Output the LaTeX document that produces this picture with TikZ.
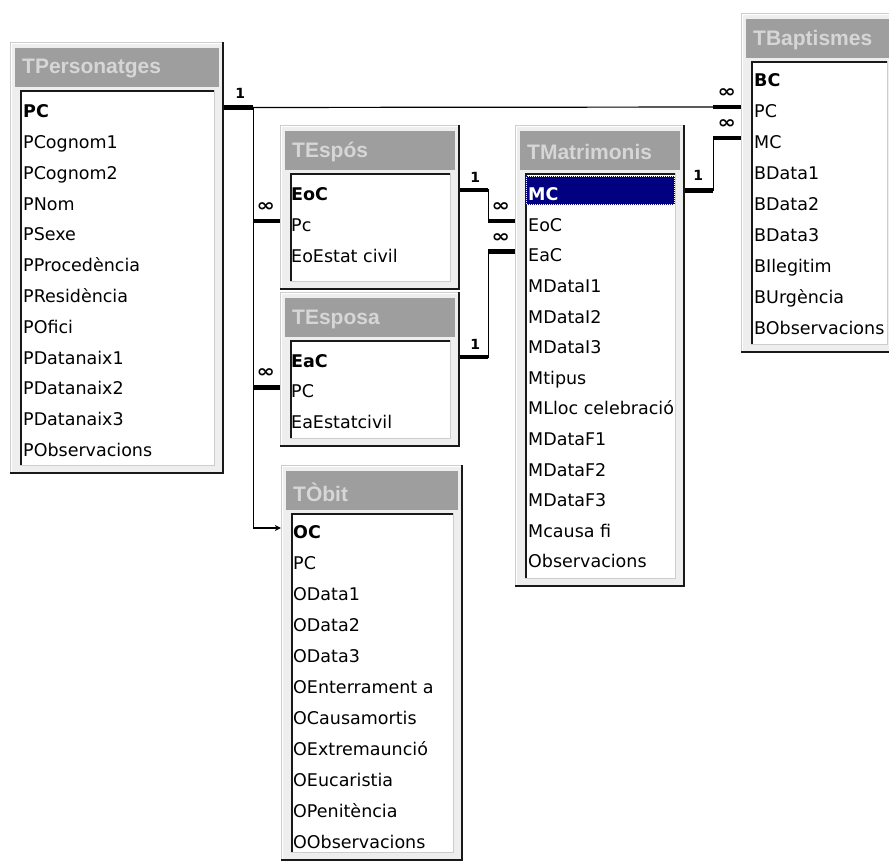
\documentclass[tikz,border=0pt]{standalone}
\usepackage{fontspec}
\setmainfont{DejaVu Sans}
\newfontfamily\capfont{Liberation Sans}
\usetikzlibrary{calc,arrows.meta}

\definecolor{winface}{RGB}{238,238,238}
\definecolor{capbar}{RGB}{158,158,158}
\definecolor{captxt}{RGB}{214,214,214}
\definecolor{edgedark}{RGB}{25,25,25}
\definecolor{edgemid}{RGB}{128,128,128}
\definecolor{edgelight}{RGB}{205,205,205}
\definecolor{selnavy}{RGB}{0,0,128}

\tikzset{
  field/.style={inner sep=0pt, text height=20.4pt, text depth=0pt,
    font=\fontsize{17.5}{20}\selectfont},
  captext/.style={inner sep=0pt, text=captxt,
    font=\capfont\bfseries\fontsize{21}{24}\selectfont},
  winbox/.style={inner sep=0pt, draw=none},
  rel/.style={line width=1.2pt, draw=black},
  stub/.style={line width=4.5pt, draw=black},
  onelbl/.style={inner sep=0pt, font=\bfseries\fontsize{14}{16}\selectfont},
  manylbl/.style={inner sep=0pt, yscale=0.8, font=\bfseries\fontsize{22}{24}\selectfont},
}

% table window: name, left, top, right, bottom, caption
\newcommand\dbtable[6]{%
  \fill[winface] (#2,#3) rectangle (#4,#5);
  \draw[edgelight, line width=1pt] ({#2+0.5},{#5-1}) -- ({#2+0.5},{#3+0.5}) -- ({#4-1},{#3+0.5});
  \draw[white, line width=1pt] ({#2+1.5},{#5-2}) -- ({#2+1.5},{#3+1.5}) -- ({#4-2},{#3+1.5});
  \draw[edgemid, line width=1pt] ({#2+1},{#5-2}) -- ({#4-2},{#5-2}) -- ({#4-2},{#3+1});
  \draw[edgedark, line width=1.6pt] (#2,{#5-0.8}) -- ({#4-0.8},{#5-0.8}) -- ({#4-0.8},#3);
  \fill[capbar] ({#2+5},{#3+6}) rectangle ({#4-5},{#3+45});
  \node[captext, anchor=west] (#1-cap) at ({#2+12},{#3+27}) {#6};
  \fill[white] ({#2+10},{#3+48}) rectangle ({#4-9},{#5-8});
  \draw[edgelight, line width=1pt] ({#2+10},{#5-8.5}) -- ({#4-9.5},{#5-8.5}) -- ({#4-9.5},{#3+48});
  \draw[edgedark, line width=2pt] ({#2+11},{#5-9}) -- ({#2+11},{#3+49}) -- ({#4-10},{#3+49});
  \node[winbox, minimum width={(#4-#2)*1pt}, minimum height={(#5-#3)*1pt}]
    (#1) at ({(#2+#4)/2},{(#3+#5)/2}) {};
}

% field rows: name, text x, first row y, row pitch, list
\newcommand\dbfields[5]{%
  \foreach \t [count=\i] in {#5} {
    \node[field, anchor=west] (#1-f\i) at (#2,{#3+(\i-1)*#4}) {\t};
  }
}

\begin{document}
\begin{tikzpicture}[x=1pt,y=-1pt]
\useasboundingbox (0,0) rectangle (889,862);
\fill[white] (0,0) rectangle (889,862);
\clip (0,0) rectangle (889,862);

% ---- tables ----
\dbtable{per}{10}{42}{224}{474}{TPersonatges}
\dbfields{per}{23}{107.5}{30.8}{\textbf{PC},PCognom1,PCognom2,PNom,PSexe,PProcedència,PResidència,POfici,PDatanaix1,PDatanaix2,PDatanaix3,PObservacions}

\dbtable{bap}{741}{13}{897}{353}{TBaptismes}
\dbfields{bap}{754}{76}{31}{\textbf{BC},PC,MC,BData1,BData2,BData3,BIlegitim,BUrgència,BObservacions}

\dbtable{espo}{280}{125}{460}{290}{TEspós}
\dbfields{espo}{291}{190}{31}{\textbf{EoC},Pc,EoEstat civil}

\dbtable{espa}{280}{292}{460}{447}{TEsposa}
\dbfields{espa}{291}{357}{30.5}{\textbf{EaC},PC,EaEstatcivil}

\dbtable{mat}{515}{125}{685}{587}{TMatrimonis}
% selected row
\fill[selnavy] (526,176) rectangle (675,205);
\draw[white, line width=1pt, dash pattern=on 1pt off 1pt] (526.5,176.5) rectangle (674.5,204.5);
\dbfields{mat}{528}{190.5}{30.6}{\textcolor{white}{\textbf{MC}},EoC,EaC,MDataI1,MDataI2,MDataI3,Mtipus,MLloc celebració,MDataF1,MDataF2,MDataF3,Mcausa fi,Observacions}

\dbtable{obit}{281}{465}{463}{861}{TÒbit}
\dbfields{obit}{293}{528}{31}{\textbf{OC},PC,OData1,OData2,OData3,OEnterrament a,OCausamortis,OExtremaunció,OEucaristia,OPenitència,OObservacions}

% ---- relationships ----
% TPersonatges.PC -> TBaptismes.PC
\draw[rel] (per.east |- per-f1) -- (bap.west |- bap-f2);
\draw[stub] (per.east |- per-f1) -- ++(29,0);
\draw[stub] (bap.west |- bap-f2) -- ++(-28,0);
\node[onelbl] (one1) at ($(per.east |- per-f1)+(16,-14)$) {1};
\node[manylbl] (many1) at ($(bap.west |- bap-f2)+(-14,-14)$) {∞};

% TPersonatges.PC -> TEspós.Pc
\draw[rel] (per.east |- per-f1) -- ++(29,0) |- (espo.west |- espo-f2);
\draw[stub] (espo.west |- espo-f2) -- ++(-27,0);
\node[manylbl] (many2) at ($(espo.west |- espo-f2)+(-14,-14)$) {∞};

% TPersonatges.PC -> TEsposa.PC
\draw[rel] (per.east |- per-f1) -- ++(29,0) |- (espa.west |- espa-f2);
\draw[stub] (espa.west |- espa-f2) -- ++(-27,0);
\node[manylbl] (many3) at ($(espa.west |- espa-f2)+(-14,-14)$) {∞};

% TPersonatges.PC -> TÒbit.OC
\draw[rel, -{Stealth[length=6pt,width=6pt]}] (per.east |- per-f1) -- ++(29,0) |- (obit.west |- obit-f1);

% TEspós.EoC -> TMatrimonis.EoC
\draw[rel] (espo.east |- espo-f1) -- ++(28,0) |- (mat.west |- mat-f2);
\draw[stub] (espo.east |- espo-f1) -- ++(28,0);
\draw[stub] (mat.west |- mat-f2) -- ++(-27,0);
\node[onelbl] (one5) at ($(espo.east |- espo-f1)+(15,-13)$) {1};
\node[manylbl] (many5) at ($(mat.west |- mat-f2)+(-14,-14)$) {∞};

% TEsposa.EaC -> TMatrimonis.EaC
\draw[rel] (espa.east |- espa-f1) -- ++(28,0) |- (mat.west |- mat-f3);
\draw[stub] (espa.east |- espa-f1) -- ++(28,0);
\draw[stub] (mat.west |- mat-f3) -- ++(-27,0);
\node[onelbl] (one6) at ($(espa.east |- espa-f1)+(15,-13)$) {1};
\node[manylbl] (many6) at ($(mat.west |- mat-f3)+(-14,-14)$) {∞};

% TMatrimonis.MC -> TBaptismes.MC
\draw[rel] (mat.east |- mat-f1) -- ++(28,0) |- (bap.west |- bap-f3);
\draw[stub] (mat.east |- mat-f1) -- ++(28,0);
\draw[stub] (bap.west |- bap-f3) -- ++(-28,0);
\node[onelbl] (one7) at ($(mat.east |- mat-f1)+(13,-15)$) {1};
\node[manylbl] (many7) at ($(bap.west |- bap-f3)+(-14,-14)$) {∞};
\end{tikzpicture}
\end{document}
